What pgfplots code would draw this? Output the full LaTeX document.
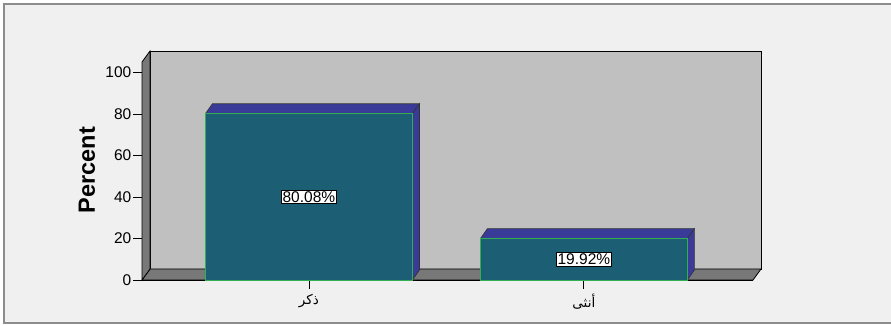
\documentclass[border=0pt]{standalone}
\usepackage{fontspec}
\setmainfont{Liberation Sans}
\newfontfamily\arabicfont[Script=Arabic]{DejaVu Sans}
\TeXXeTstate=1
\usepackage{pgfplots}
\pgfplotsset{compat=1.18}
\definecolor{bgc}{RGB}{240,240,240}
\definecolor{framec}{RGB}{140,140,140}
\definecolor{backwall}{RGB}{192,192,192}
\definecolor{sidegray}{RGB}{120,120,120}
\definecolor{barfront}{RGB}{28,94,115}
\definecolor{bartop}{RGB}{58,58,152}
\definecolor{bargreen}{RGB}{50,175,80}
\begin{document}
\begin{tikzpicture}
\useasboundingbox (0,0) rectangle (891pt,326pt);
\fill[white] (0,0) rectangle (891pt,326pt);
\filldraw[fill=bgc, draw=framec, line width=1.5pt] (4pt,3pt) rectangle (897pt,322pt);
\begin{axis}[
  at={(142pt,46pt)}, anchor=south west,
  width=611pt, height=218pt, scale only axis,
  xmin=-0.607, xmax=1.615, ymin=0, ymax=105,
  clip=false,
  axis x line*=bottom, axis y line*=left,
  axis line style={black, line width=0.8pt, -},
  ytick={0,20,40,60,80,100},
  xtick={0,1},
  xticklabels={{\arabicfont\beginR ذكر\endR},{\arabicfont\beginR أنثى\endR}},
  tick align=outside, major tick length=9pt,
  tick style={black, line width=0.8pt},
  /pgf/number format/assume math mode=true,
  yticklabel style={font=\fontsize{15.5}{15.5}\selectfont, inner sep=1.5pt},
  xticklabel style={font=\fontsize{13.5}{13.5}\selectfont, inner sep=2pt, yshift=-3pt},
]
% back wall
\filldraw[fill=backwall, draw=black, line width=0.8pt]
  ([shift={(8pt,11pt)}]axis cs:-0.607,0) rectangle ([shift={(8pt,11pt)}]axis cs:1.615,105);
% floor
\filldraw[fill=sidegray, draw=black, line width=0.8pt]
  (axis cs:-0.607,0) -- ([shift={(8pt,11pt)}]axis cs:-0.607,0) -- ([shift={(8pt,11pt)}]axis cs:1.615,0) -- (axis cs:1.615,0) -- cycle;
% left wall
\filldraw[fill=sidegray, draw=black, line width=0.8pt]
  (axis cs:-0.607,0) -- (axis cs:-0.607,105) -- ([shift={(8pt,11pt)}]axis cs:-0.607,105) -- ([shift={(8pt,11pt)}]axis cs:-0.607,0) -- cycle;
% bar 3D faces
\addplot[fill=bartop, draw=black!80, line width=0.6pt] coordinates {(-0.3765,80.08) (-0.351,84.88) (0.402,84.88) (0.3765,80.08)} -- cycle;
\addplot[fill=bartop, draw=black!80, line width=0.6pt] coordinates {(0.3765,0) (0.402,4.8) (0.402,84.88) (0.3765,80.08)} -- cycle;
\addplot[fill=bartop, draw=black!80, line width=0.6pt] coordinates {(0.6235,19.92) (0.649,24.72) (1.402,24.72) (1.3765,19.92)} -- cycle;
\addplot[fill=bartop, draw=black!80, line width=0.6pt] coordinates {(1.3765,0) (1.402,4.8) (1.402,24.72) (1.3765,19.92)} -- cycle;
% bar fronts
\addplot[ybar, bar width=0.753, fill=barfront, draw=bargreen, line width=0.9pt] coordinates {(0,80.08) (1,19.92)};
\node[fill=white, draw=black, inner sep=1.2pt, font=\fontsize{15.5}{15.5}\selectfont] at (axis cs:0,40.04) {80.08\%};
\node[fill=white, draw=black, inner sep=1.2pt, font=\fontsize{15.5}{15.5}\selectfont] at (axis cs:1,9.96) {19.92\%};
\end{axis}
\node[rotate=90, font=\bfseries\fontsize{23.5}{23.5}\selectfont] at (87pt,156pt) {Percent};
\end{tikzpicture}
\end{document}
